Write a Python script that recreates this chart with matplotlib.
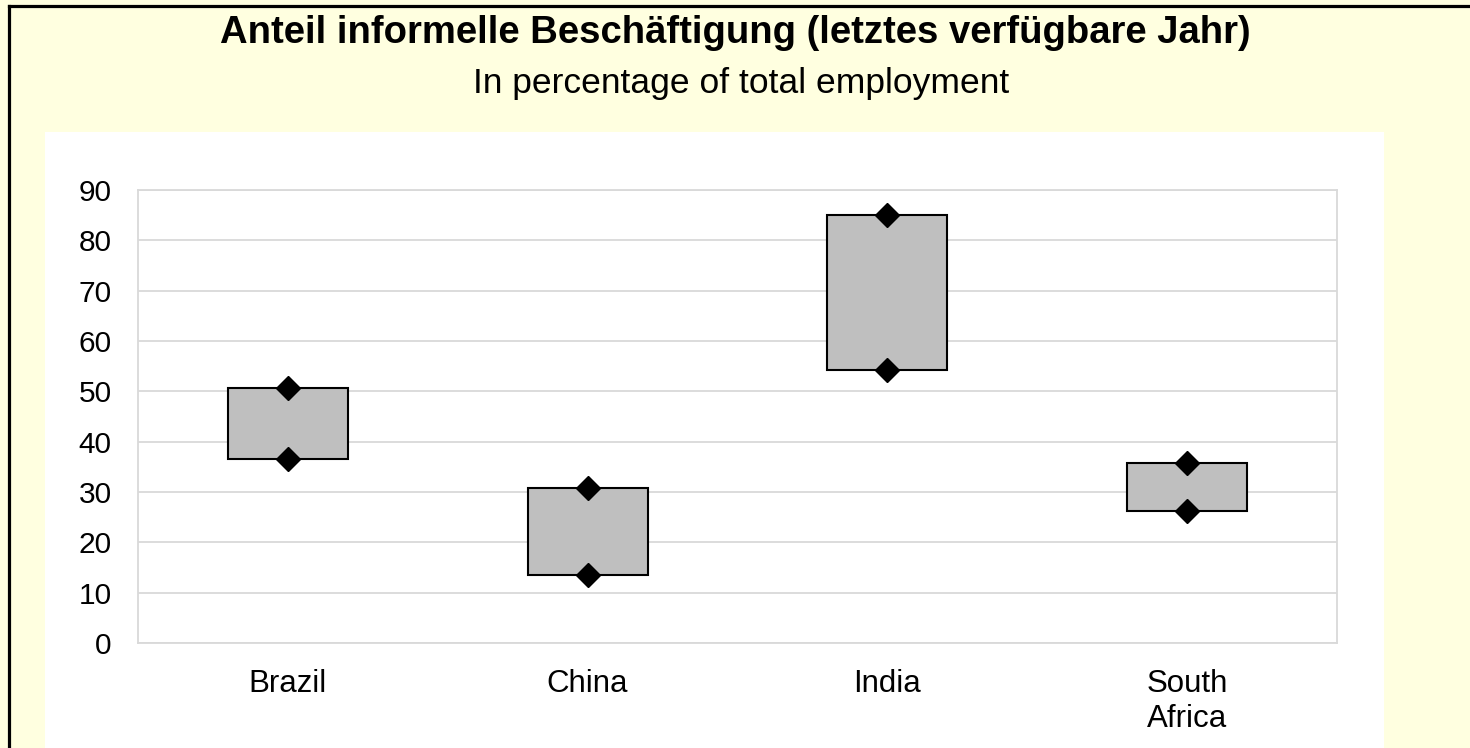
import matplotlib
matplotlib.use("Agg")
import matplotlib.pyplot as plt
from matplotlib.patches import Rectangle
from matplotlib.lines import Line2D

plt.rcParams['font.family'] = ['Liberation Sans', 'DejaVu Sans']

categories = ["Brazil", "China", "India", "South\nAfrica"]
low_values = [36.6, 13.5, 54.2, 26.2]
high_values = [50.6, 30.7, 85.0, 35.8]
y_ticks = [0, 10, 20, 30, 40, 50, 60, 70, 80, 90]

title = "Anteil informelle Beschäftigung (letztes verfügbare Jahr)"
subtitle = "In percentage of total employment"

W, H = 1470, 748
fig = plt.figure(figsize=(W / 100, H / 100), dpi=100)
fig.patch.set_facecolor("#FFFFE0")

# white plot-area panel
fig.patches.append(Rectangle((45 / W, 0), (1384 - 45) / W, 1 - 132 / H,
                             transform=fig.transFigure, facecolor="white",
                             edgecolor="none", zorder=-5))
# outer black frame (top and left visible)
fig.lines.append(Line2D([8.5 / W, 1.0], [1 - 5.5 / H, 1 - 5.5 / H],
                        transform=fig.transFigure, color="black", lw=2.3,
                        zorder=-4))
fig.lines.append(Line2D([8.5 / W, 8.5 / W], [0, 1 - 5.5 / H],
                        transform=fig.transFigure, color="black", lw=2.3,
                        zorder=-4))

ax = fig.add_axes([138 / W, 1 - 643 / H, (1337 - 138) / W, (643 - 190) / H])
ax.set_zorder(2)
ax.set_facecolor("white")

x = list(range(len(categories)))
heights = [h - l for h, l in zip(high_values, low_values)]
ax.bar(x, heights, bottom=low_values, width=0.40, color="#BFBFBF",
       edgecolor="black", linewidth=1.5, zorder=3)
ax.plot(x, high_values, linestyle="none", marker="D", markersize=12,
        color="black", zorder=4, clip_on=False)
ax.plot(x, low_values, linestyle="none", marker="D", markersize=12,
        color="black", zorder=4, clip_on=False)

ax.set_xlim(-0.5, len(categories) - 0.5)
ax.set_ylim(0, 90)
ax.set_yticks(y_ticks)
ax.set_xticks(x)
ax.set_xticklabels(categories, fontsize=22.5)
ax.tick_params(axis="y", labelsize=21.5, length=0, pad=19)
ax.tick_params(axis="x", length=0, pad=19)
ax.yaxis.grid(True, color="#D9D9D9", linewidth=1.3, zorder=0)
ax.set_axisbelow(True)
for s in ax.spines.values():
    s.set_color("#D9D9D9")
    s.set_linewidth(1.3)

fig.text(735 / W, 1 - 43 / H, title, ha="center", va="baseline",
         fontsize=27.5, fontweight="bold")
fig.text(741.5 / W, 1 - 93 / H, subtitle, ha="center", va="baseline",
         fontsize=25.5)

fig.savefig("out.png", dpi=100, facecolor=fig.get_facecolor())
